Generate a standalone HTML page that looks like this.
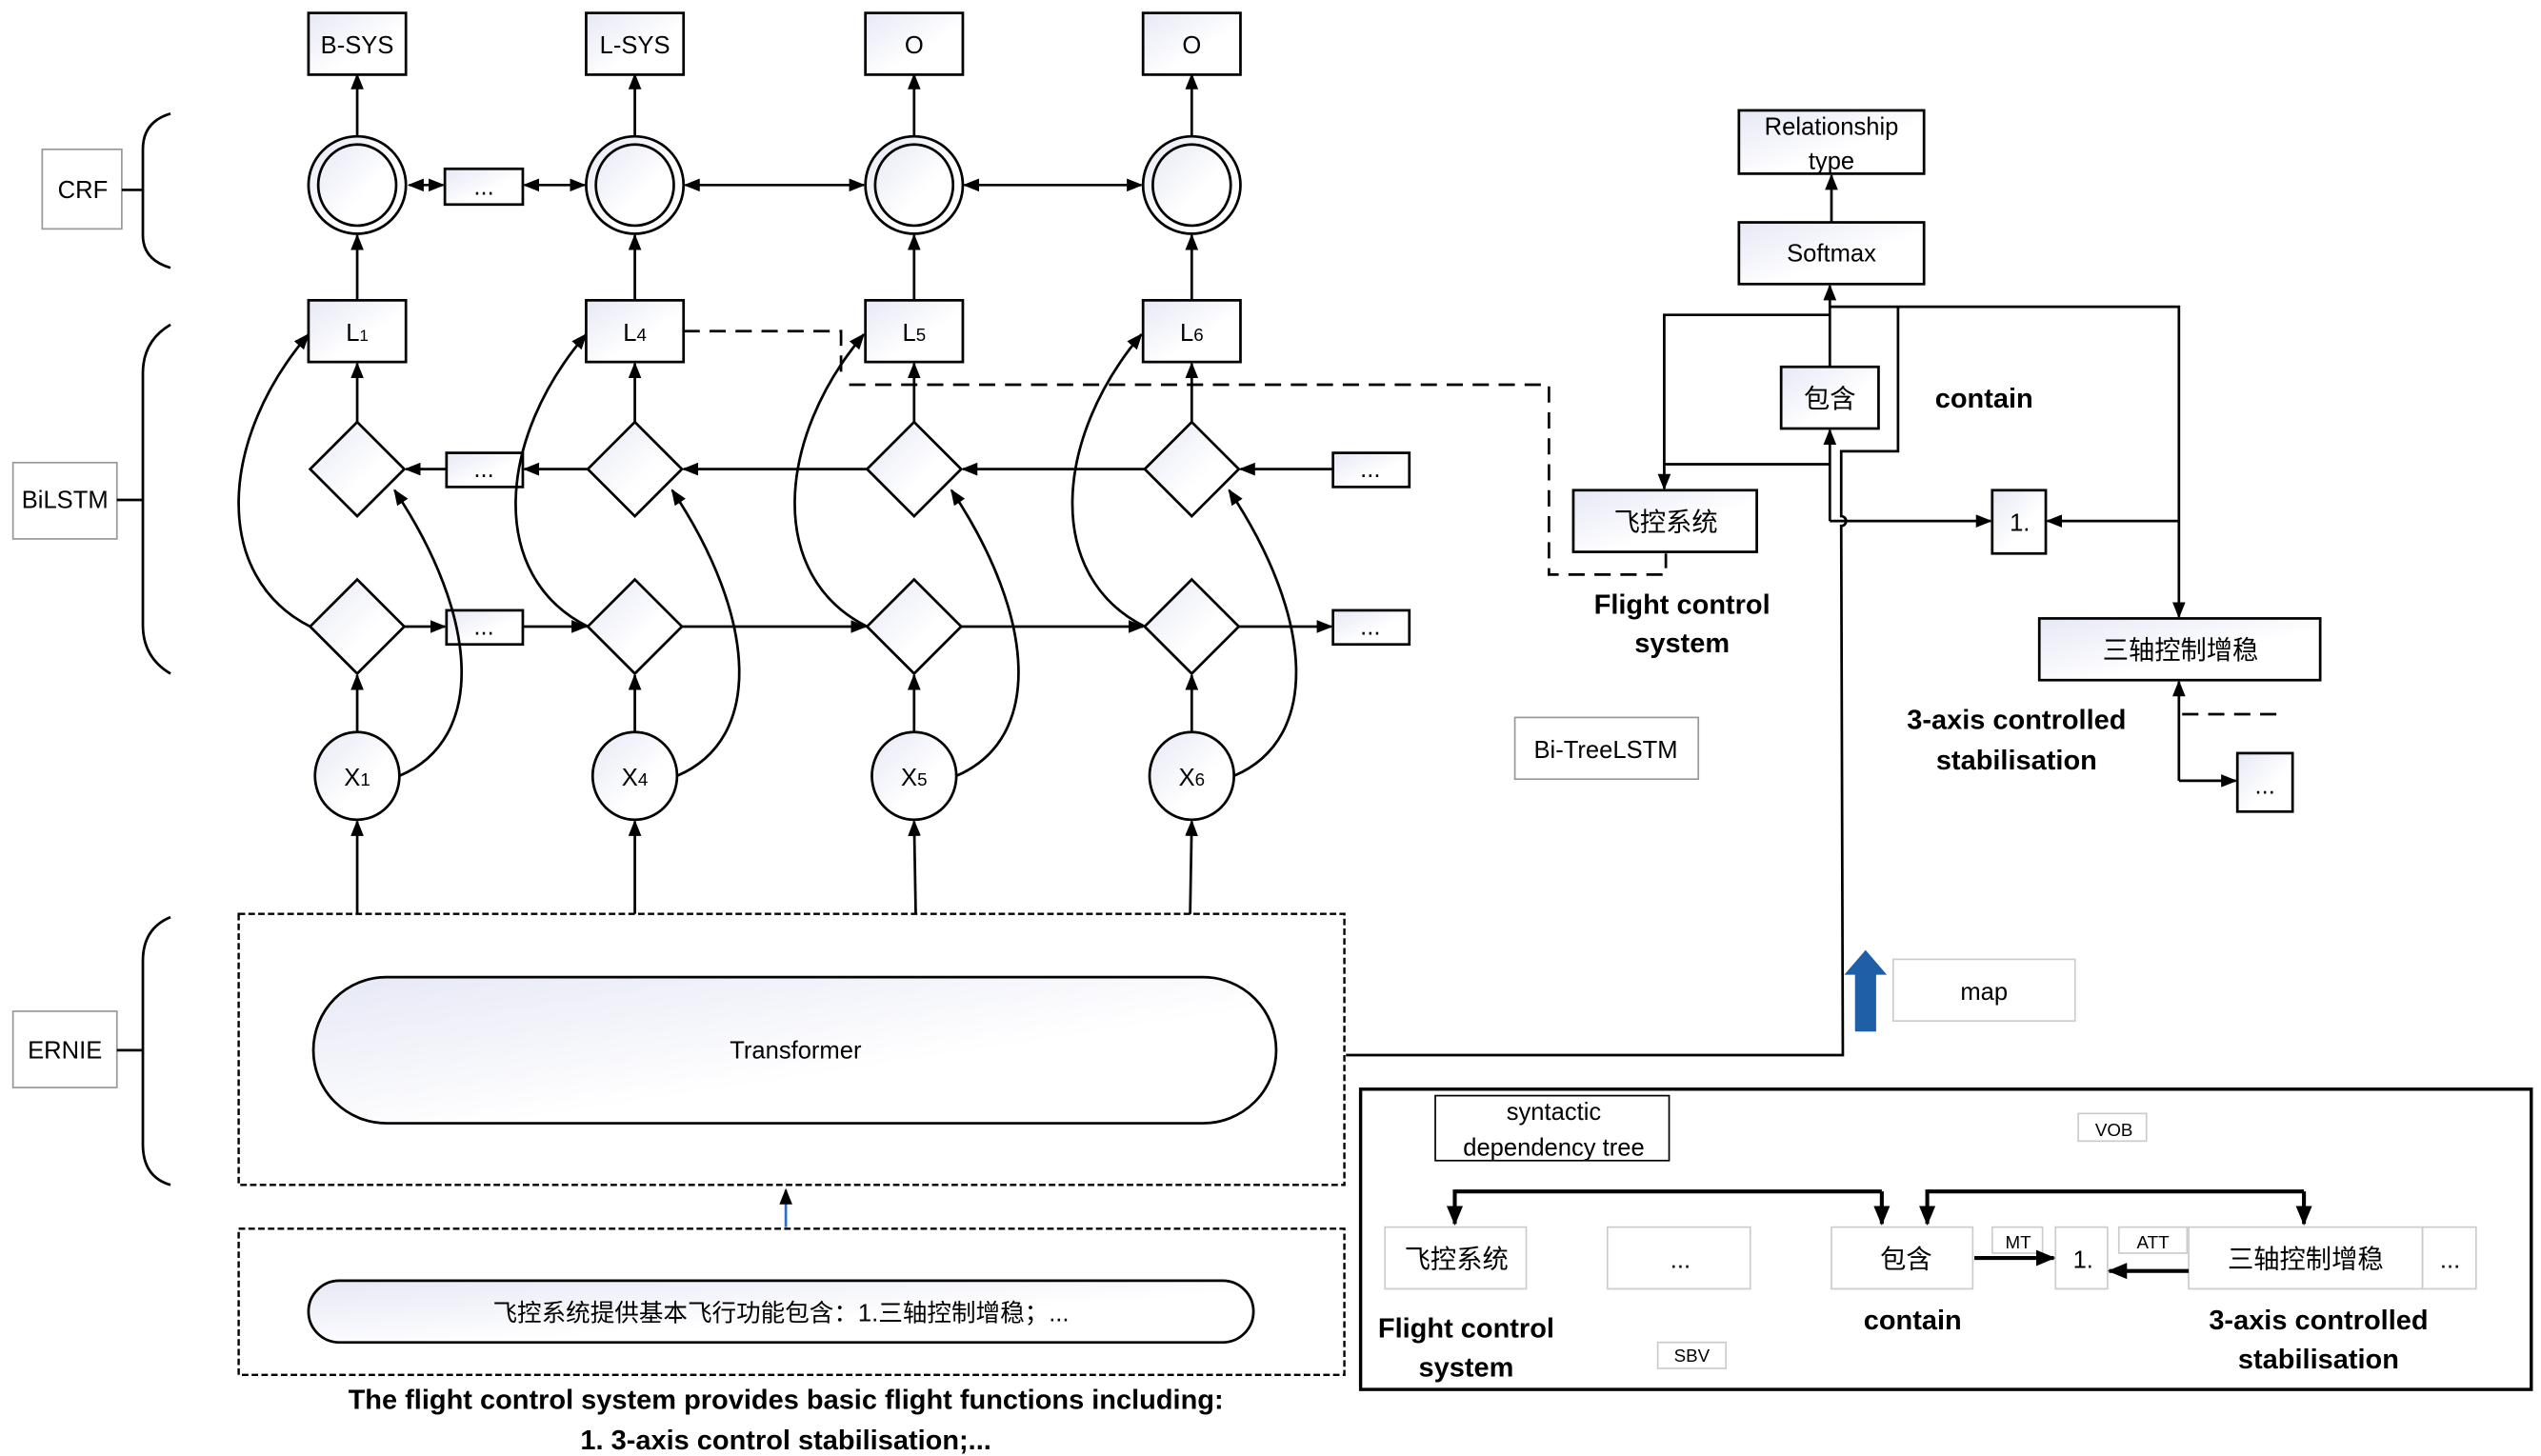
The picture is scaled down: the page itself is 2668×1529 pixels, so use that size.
<!DOCTYPE html>
<html><head><meta charset="utf-8"><style>
html,body{margin:0;padding:0;background:#fff;}
svg{display:block;}
text{font-family:"Liberation Sans","Noto Sans CJK SC",sans-serif;fill:#000;}
.b{font-weight:bold;font-size:17px;}
</style></head><body>
<svg width="2668" height="1529" viewBox="0 0 1565 897" preserveAspectRatio="none" xmlns="http://www.w3.org/2000/svg">
<defs>
<linearGradient id="g" x1="0" y1="0" x2="1" y2="1"><stop offset="0" stop-color="#e6e8f5"/><stop offset="0.6" stop-color="#fff"/></linearGradient>
<marker id="a" markerWidth="10" markerHeight="8" refX="9" refY="4" orient="auto" markerUnits="userSpaceOnUse"><path d="M0,0 L10,4 L0,8 z" fill="#000"/></marker>
<marker id="as" markerWidth="10" markerHeight="8" refX="1" refY="4" orient="auto" markerUnits="userSpaceOnUse"><path d="M10,0 L0,4 L10,8 z" fill="#000"/></marker>
<marker id="ab" markerWidth="12" markerHeight="10" refX="11" refY="5" orient="auto" markerUnits="userSpaceOnUse"><path d="M0,0 L12,5 L0,10 z" fill="#000"/></marker>
</defs>
<g stroke="#000" stroke-width="1.6" fill="none">
<!-- output boxes -->
<rect x="190" y="8" width="60" height="38" fill="url(#g)"/>
<rect x="361" y="8" width="60" height="38" fill="url(#g)"/>
<rect x="533" y="8" width="60" height="38" fill="url(#g)"/>
<rect x="704" y="8" width="60" height="38" fill="url(#g)"/>
<!-- CRF circles -->
<g fill="url(#g)">
<ellipse cx="220" cy="114" rx="30" ry="30"/><ellipse cx="220" cy="114" rx="24" ry="25"/>
<ellipse cx="391" cy="114" rx="30" ry="30"/><ellipse cx="391" cy="114" rx="24" ry="25"/>
<ellipse cx="563" cy="114" rx="30" ry="30"/><ellipse cx="563" cy="114" rx="24" ry="25"/>
<ellipse cx="734" cy="114" rx="30" ry="30"/><ellipse cx="734" cy="114" rx="24" ry="25"/>
</g>
<line x1="220" y1="84" x2="220" y2="46" marker-end="url(#a)"/>
<line x1="391" y1="84" x2="391" y2="46" marker-end="url(#a)"/>
<line x1="563" y1="84" x2="563" y2="46" marker-end="url(#a)"/>
<line x1="734" y1="84" x2="734" y2="46" marker-end="url(#a)"/>
<rect x="274" y="104" width="48" height="22" fill="url(#g)"/>
<line x1="252" y1="114" x2="273" y2="114" marker-start="url(#as)" marker-end="url(#a)"/>
<line x1="323" y1="114" x2="360" y2="114" marker-start="url(#as)" marker-end="url(#a)"/>
<line x1="422" y1="114" x2="532" y2="114" marker-start="url(#as)" marker-end="url(#a)"/>
<line x1="594" y1="114" x2="703" y2="114" marker-start="url(#as)" marker-end="url(#a)"/>
<!-- L boxes -->
<rect x="190" y="185" width="60" height="38" fill="url(#g)"/>
<rect x="361" y="185" width="60" height="38" fill="url(#g)"/>
<rect x="533" y="185" width="60" height="38" fill="url(#g)"/>
<rect x="704" y="185" width="60" height="38" fill="url(#g)"/>
<line x1="220" y1="185" x2="220" y2="145" marker-end="url(#a)"/>
<line x1="391" y1="185" x2="391" y2="145" marker-end="url(#a)"/>
<line x1="563" y1="185" x2="563" y2="145" marker-end="url(#a)"/>
<line x1="734" y1="185" x2="734" y2="145" marker-end="url(#a)"/>
<!-- diamonds -->
<g fill="url(#g)">
<path d="M220,260 L249,289 L220,318 L191,289 z"/><path d="M391,260 L420,289 L391,318 L362,289 z"/>
<path d="M563,260 L592,289 L563,318 L534,289 z"/><path d="M734,260 L763,289 L734,318 L705,289 z"/>
<path d="M220,357 L249,386 L220,415 L191,386 z"/><path d="M391,357 L420,386 L391,415 L362,386 z"/>
<path d="M563,357 L592,386 L563,415 L534,386 z"/><path d="M734,357 L763,386 L734,415 L705,386 z"/>
<rect x="275" y="279" width="47" height="21"/><rect x="275" y="376" width="47" height="21"/>
<rect x="821" y="279" width="47" height="21"/><rect x="821" y="376" width="47" height="21"/>
</g>
<line x1="220" y1="260" x2="220" y2="224" marker-end="url(#a)"/>
<line x1="391" y1="260" x2="391" y2="224" marker-end="url(#a)"/>
<line x1="563" y1="260" x2="563" y2="224" marker-end="url(#a)"/>
<line x1="734" y1="260" x2="734" y2="224" marker-end="url(#a)"/>
<!-- upper row leftwards -->
<line x1="275" y1="289" x2="250" y2="289" marker-end="url(#a)"/>
<line x1="362" y1="289" x2="323" y2="289" marker-end="url(#a)"/>
<line x1="534" y1="289" x2="421" y2="289" marker-end="url(#a)"/>
<line x1="705" y1="289" x2="593" y2="289" marker-end="url(#a)"/>
<line x1="821" y1="289" x2="764" y2="289" marker-end="url(#a)"/>
<!-- lower row rightwards -->
<line x1="249" y1="386" x2="274" y2="386" marker-end="url(#a)"/>
<line x1="322" y1="386" x2="361" y2="386" marker-end="url(#a)"/>
<line x1="420" y1="386" x2="533" y2="386" marker-end="url(#a)"/>
<line x1="592" y1="386" x2="704" y2="386" marker-end="url(#a)"/>
<line x1="763" y1="386" x2="820" y2="386" marker-end="url(#a)"/>
<!-- X circles -->
<g fill="url(#g)">
<ellipse cx="220" cy="478" rx="26" ry="27"/><ellipse cx="391" cy="478" rx="26" ry="27"/>
<ellipse cx="563" cy="478" rx="26" ry="27"/><ellipse cx="734" cy="478" rx="26" ry="27"/>
</g>
<line x1="220" y1="451" x2="220" y2="416" marker-end="url(#a)"/>
<line x1="391" y1="451" x2="391" y2="416" marker-end="url(#a)"/>
<line x1="563" y1="451" x2="563" y2="416" marker-end="url(#a)"/>
<line x1="734" y1="451" x2="734" y2="416" marker-end="url(#a)"/>
<!-- curves -->
<path d="M191,386 C130,355 135,270 190,206" marker-end="url(#a)"/>
<path d="M362,386 C300,355 306,270 361,206" marker-end="url(#a)"/>
<path d="M534,386 C472,355 478,270 532,206" marker-end="url(#a)"/>
<path d="M705,386 C643,355 649,270 703,206" marker-end="url(#a)"/>
<path d="M246,478 C300,455 295,380 243,302" marker-end="url(#a)"/>
<path d="M417,478 C471,455 466,380 414,302" marker-end="url(#a)"/>
<path d="M589,478 C643,455 638,380 586,302" marker-end="url(#a)"/>
<path d="M760,478 C814,455 809,380 757,302" marker-end="url(#a)"/>
<!-- ERNIE to X -->
<line x1="220" y1="563" x2="220" y2="506" marker-end="url(#a)"/>
<line x1="391" y1="563" x2="391" y2="506" marker-end="url(#a)"/>
<line x1="564" y1="563" x2="563" y2="506" marker-end="url(#a)"/>
<line x1="733" y1="563" x2="734" y2="506" marker-end="url(#a)"/>
<!-- left labels & braces -->
<rect x="26" y="92" width="49" height="49" stroke="#999" stroke-width="1"/>
<rect x="8" y="285" width="64" height="47" stroke="#999" stroke-width="1"/>
<rect x="8" y="623" width="64" height="47" stroke="#999" stroke-width="1"/>
<line x1="75" y1="117" x2="88" y2="117"/><line x1="72" y1="308" x2="88" y2="308"/><line x1="72" y1="647" x2="88" y2="647"/>
<path d="M105,70 Q88,75 88,92 L88,145 Q88,160 105,165"/>
<path d="M105,200 Q88,210 88,230 L88,385 Q88,405 105,415"/>
<path d="M105,565 Q88,572 88,592 L88,705 Q88,725 105,730"/>
<!-- ERNIE -->
<rect x="147" y="563" width="681" height="167" stroke-dasharray="4,2" stroke-width="1.4"/>
<rect x="193" y="602" width="593" height="90" rx="45" ry="45" fill="url(#g)"/>
<line x1="484" y1="756" x2="484" y2="733" stroke="#2a6fc9" marker-end="url(#a)"/>
<rect x="147" y="757" width="681" height="90" stroke-dasharray="4,2" stroke-width="1.4"/>
<rect x="190" y="789" width="582" height="38" rx="19" ry="19" fill="url(#g)"/>
<!-- dashed connection -->
<path d="M421,204 L518,204 L518,230" stroke-dasharray="10,6"/>
<path d="M523,237 L954,237 L954,354 L1026,354 L1026,341" stroke-dasharray="10,6"/>
<!-- right tree -->
<rect x="1071" y="68" width="114" height="39" fill="url(#g)"/>
<rect x="1071" y="137" width="114" height="38" fill="url(#g)"/>
<line x1="1128" y1="137" x2="1128" y2="108" marker-end="url(#a)"/>
<rect x="1097" y="226" width="60" height="38" fill="url(#g)"/>
<rect x="969" y="302" width="113" height="38" fill="url(#g)"/>
<rect x="1227" y="302" width="33" height="39" fill="url(#g)"/>
<rect x="1256" y="381" width="173" height="38" fill="url(#g)"/>
<rect x="1378" y="464" width="34" height="36" fill="url(#g)"/>
<line x1="1127" y1="226" x2="1127" y2="176" marker-end="url(#a)"/>
<path d="M1127,194 L1025,194 L1025,301" marker-end="url(#a)"/>
<path d="M1127,189 L1342,189 L1342,380" marker-end="url(#a)"/>
<path d="M1169,189 L1169,278 L1134,278 L1134,318 A3,3 0 0 1 1134,324 L1135,650 L829,650"/>
<path d="M1127,321 L1127,265" marker-end="url(#a)"/>
<line x1="1127" y1="286" x2="1025" y2="286"/>
<line x1="1127" y1="321" x2="1226" y2="321" marker-end="url(#a)"/>
<line x1="1342" y1="321" x2="1261" y2="321" marker-end="url(#a)"/>
<path d="M1342,481 L1342,420" marker-end="url(#a)"/>
<line x1="1342" y1="481" x2="1377" y2="481" marker-end="url(#a)"/>
<line x1="1344" y1="440" x2="1405" y2="440" stroke-dasharray="10,6"/>
<rect x="933" y="442" width="113" height="38" stroke="#999" stroke-width="1"/>
<!-- blue arrow -->
<path d="M1143,635 L1143,600 L1137,600 L1149,586 L1161,600 L1155,600 L1155,635 z" fill="#1f5fa8" stroke="#1f5fa8" stroke-width="1"/>
<rect x="1166" y="591" width="112" height="38" stroke="#ccc" stroke-width="1"/>
<!-- bottom right box -->
<rect x="838" y="671" width="721" height="185" stroke-width="2"/>
<rect x="884" y="675" width="144" height="40" stroke-width="1"/>
<g stroke="#ccc" stroke-width="1">
<rect x="1280" y="686" width="42" height="17"/>
<rect x="853" y="756" width="87" height="38"/>
<rect x="990" y="756" width="88" height="38"/>
<rect x="1128" y="756" width="87" height="38"/>
<rect x="1227" y="756" width="31" height="16"/>
<rect x="1266" y="756" width="32" height="38"/>
<rect x="1305" y="756" width="42" height="16"/>
<rect x="1348" y="756" width="144" height="38"/>
<rect x="1492" y="756" width="33" height="38"/>
<rect x="1021" y="827" width="42" height="16"/>
</g>
<g stroke-width="2.4">
<path d="M1159,734 L896,734 L896,754" marker-end="url(#ab)"/>
<path d="M1159,734 L1159,754" marker-end="url(#ab)"/>
<path d="M1419,734 L1187,734 L1187,754" marker-end="url(#ab)"/>
<path d="M1419,734 L1419,754" marker-end="url(#ab)"/>
<line x1="1216" y1="775" x2="1265" y2="775" marker-end="url(#ab)"/>
<line x1="1348" y1="783" x2="1299" y2="783" marker-end="url(#ab)"/>
</g>
</g>
<g font-size="15" text-anchor="middle">
<text x="220" y="33">B-SYS</text><text x="391" y="33">L-SYS</text><text x="563" y="33">O</text><text x="734" y="33">O</text>
<text x="298" y="120">...</text>
<text x="220" y="210">L<tspan font-size="10">1</tspan></text><text x="391" y="210">L<tspan font-size="11">4</tspan></text>
<text x="563" y="210">L<tspan font-size="11">5</tspan></text><text x="734" y="210">L<tspan font-size="11">6</tspan></text>
<text x="298" y="294">...</text><text x="298" y="391">...</text><text x="844" y="294">...</text><text x="844" y="391">...</text>
<text x="220" y="484">X<tspan font-size="11">1</tspan></text><text x="391" y="484">X<tspan font-size="11">4</tspan></text>
<text x="563" y="484">X<tspan font-size="11">5</tspan></text><text x="734" y="484">X<tspan font-size="11">6</tspan></text>
<text x="51" y="122">CRF</text><text x="40" y="313">BiLSTM</text><text x="40" y="652">ERNIE</text>
<text x="490" y="652">Transformer</text>
<text x="481" y="814">飞控系统提供基本飞行功能包含：1.三轴控制增稳；...</text>
<text x="1128" y="83">Relationship</text><text x="1128" y="104">type</text>
<text x="1128" y="161">Softmax</text>
<text x="1127" y="251" font-size="16">包含</text>
<text x="1026" y="327" font-size="16">飞控系统</text>
<text x="1244" y="327">1.</text>
<text x="1343" y="406" font-size="16">三轴控制增稳</text>
<text x="1395" y="489">...</text>
<text x="989" y="467">Bi-TreeLSTM</text>
<text x="1222" y="616">map</text>
<text x="957" y="690">syntactic</text><text x="957" y="712">dependency tree</text>
<text x="1302" y="700" font-size="11">VOB</text>
<text x="897" y="781" font-size="16">飞控系统</text>
<text x="1035" y="781">...</text>
<text x="1174" y="781" font-size="16">包含</text>
<text x="1243" y="769" font-size="11">MT</text>
<text x="1283" y="781">1.</text>
<text x="1326" y="769" font-size="11">ATT</text>
<text x="1420" y="781" font-size="16">三轴控制增稳</text>
<text x="1509" y="781">...</text>
<text x="1042" y="839" font-size="11">SBV</text>
</g>
<g class="b" text-anchor="middle">
<text x="484" y="868">The flight control system provides basic flight functions including:</text>
<text x="484" y="893">1. 3-axis control stabilisation;...</text>
<text x="1222" y="251">contain</text>
<text x="1036" y="378">Flight control</text><text x="1036" y="402">system</text>
<text x="1242" y="449">3-axis controlled</text><text x="1242" y="474">stabilisation</text>
<text x="903" y="824">Flight control</text><text x="903" y="848">system</text>
<text x="1178" y="819">contain</text>
<text x="1428" y="819">3-axis controlled</text><text x="1428" y="843">stabilisation</text>
</g>
</svg>
</body></html>
